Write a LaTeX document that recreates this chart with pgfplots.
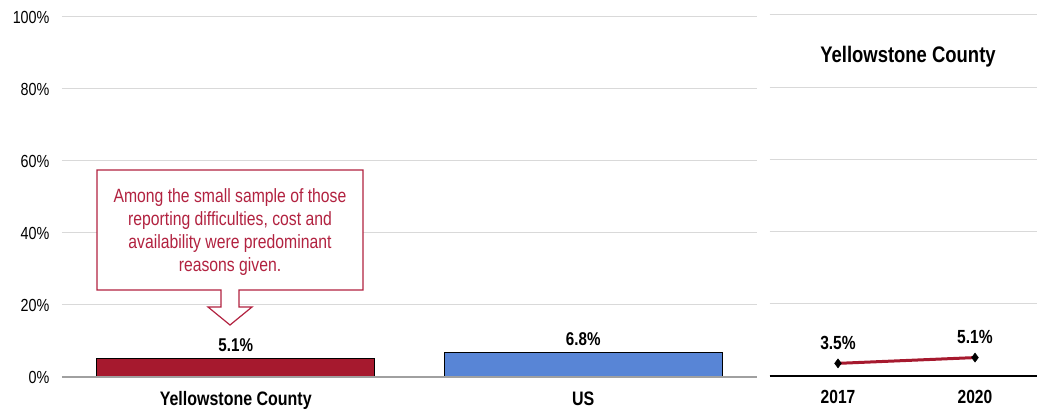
\documentclass[border=0pt]{standalone}
\usepackage{pgfplots}
\pgfplotsset{compat=1.18}
\usepackage{fontspec}
\setmainfont{Liberation Sans}[FakeStretch=0.82]
\definecolor{ycred}{RGB}{166,25,46}
\definecolor{usblue}{RGB}{88,133,214}
\definecolor{callout}{RGB}{178,34,64}
\definecolor{gridgray}{RGB}{217,217,217}
\definecolor{basegray}{RGB}{160,160,160}
\begin{document}
\begin{tikzpicture}[x=1pt,y=1pt]
\path[use as bounding box] (0pt,0pt) rectangle (1037pt,412pt);
% ---------- left panel ----------
\begin{axis}[
  at={(62pt,35pt)}, anchor=south west, scale only axis,
  width=695pt, height=360pt,
  xmin=-0.5, xmax=1.5, ymin=0, ymax=100,
  axis line style={draw=none},
  major tick length=0pt,
  xtick={0,1}, xticklabels={Yellowstone County, US},
  ytick={0,20,40,60,80,100},
  yticklabel={\pgfmathprintnumber{\tick}\%},
  /pgf/number format/assume math mode=true,
  ymajorgrids, grid style={gridgray, line width=1pt},
  yticklabel style={font=\fontsize{17.5}{20}\selectfont, xshift=-9pt},
  xticklabel style={font=\bfseries\fontsize{19.5}{22}\selectfont, yshift=-11pt},
  clip=false,
  nodes near coords={\pgfmathprintnumber[fixed,fixed zerofill,precision=1]{\pgfplotspointmeta}\%},
  every node near coord/.append style={font=\bfseries\fontsize{18.5}{21}\selectfont, text=black, yshift=3pt},
]
\addplot[ybar, bar shift=0pt, bar width=0.8, fill=ycred, draw=black, line width=0.8pt] coordinates {(0,5.1)};
\addplot[ybar, bar shift=0pt, bar width=0.8, fill=usblue, draw=black, line width=0.8pt] coordinates {(1,6.8)};
\draw[basegray, line width=1.2pt] (axis cs:-0.5,0) -- (axis cs:1.5,0);
\end{axis}
% ---------- right panel ----------
\begin{axis}[
  at={(769.5pt,36pt)}, anchor=south west, scale only axis,
  width=267.5pt, height=361pt,
  xmin=-0.5, xmax=1.4526, ymin=0, ymax=100,
  axis line style={draw=none},
  major tick length=0pt,
  xtick={0,1}, xticklabels={2017, 2020},
  ytick={0,20,40,60,80,100}, yticklabels={},
  /pgf/number format/assume math mode=true,
  ymajorgrids, grid style={gridgray, line width=1pt},
  xticklabel style={font=\bfseries\fontsize{19}{22}\selectfont, yshift=-11pt},
  clip=false,
  nodes near coords={\pgfmathprintnumber[fixed,fixed zerofill,precision=1]{\pgfplotspointmeta}\%},
  every node near coord/.append style={font=\bfseries\fontsize{19}{22}\selectfont, text=black, yshift=10pt},
]
\draw[black, line width=1.3pt] (axis cs:-0.5,0) -- (axis cs:1.4526,0);
\addplot[color=ycred, line width=3pt, mark=diamond*, mark size=4.5pt,
  mark options={draw=black, fill=black, line width=0.5pt}] coordinates {(0,3.5) (1,5.1)};
\end{axis}
\node[font=\bfseries\fontsize{22.5}{25}\selectfont] at (908pt,355pt) {Yellowstone County};
% ---------- callout ----------
\draw[callout, fill=white, line width=1.2pt, line join=miter]
  (97pt,242pt) -- (363pt,242pt) -- (363pt,122pt) -- (239pt,122pt) -- (239pt,105pt) -- (252pt,105pt)
  -- (230pt,87pt) -- (208pt,105pt) -- (221pt,105pt) -- (221pt,122pt) -- (97pt,122pt) -- cycle;
\node[text=callout, align=center, font=\fontsize{19.2}{23}\selectfont] at (230pt,180pt)
  {Among the small sample of those\\reporting difficulties, cost and\\availability were predominant\\reasons given.};
\end{tikzpicture}
\end{document}
